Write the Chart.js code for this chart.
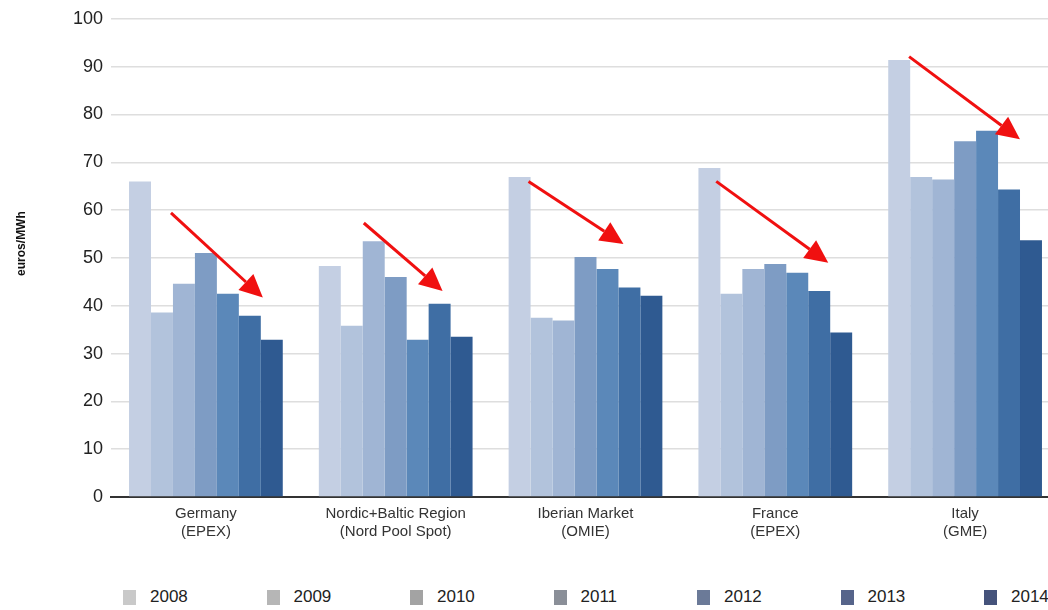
<!DOCTYPE html>
<html>
<head>
<meta charset="utf-8">
<script src="https://cdn.jsdelivr.net/npm/chart.js@4.4.1/dist/chart.umd.min.js"></script>
<style>
  html, body { margin: 0; padding: 0; background: #ffffff; overflow: hidden; }
  #wrap { position: relative; width: 1048px; height: 610px; overflow: hidden; }
  #chart { position: absolute; left: 0; top: 0; }
  #legend { position: absolute; left: 123px; top: 587px; display: flex; white-space: nowrap; }
  .item { width: 143.5px; display: flex; align-items: center; font-family: 'Liberation Sans', Arial, sans-serif; font-size: 17px; color: #222; }
  .box { width: 13px; height: 15px; margin-right: 14px; }
</style>
</head>
<body>
<div id="wrap">
  <canvas id="chart"></canvas>
  <div id="legend"></div>
</div>
<script>
// Wholesale electricity prices by market, euros/MWh
const markets = [
  ['Germany', '(EPEX)'],
  ['Nordic+Baltic Region', '(Nord Pool Spot)'],
  ['Iberian Market', '(OMIE)'],
  ['France', '(EPEX)'],
  ['Italy', '(GME)']
];
const years = ['2008', '2009', '2010', '2011', '2012', '2013', '2014'];

const price2008 = [66.0, 48.3, 66.9, 68.8, 91.4];
const price2009 = [38.6, 35.8, 37.5, 42.5, 66.9];
const price2010 = [44.6, 53.5, 36.9, 47.7, 66.4];
const price2011 = [51.0, 46.0, 50.2, 48.7, 74.4];
const price2012 = [42.5, 32.9, 47.7, 46.9, 76.6];
const price2013 = [37.9, 40.4, 43.8, 43.1, 64.3];
const price2014 = [32.9, 33.5, 42.1, 34.4, 53.7];
const seriesValues = [price2008, price2009, price2010, price2011, price2012, price2013, price2014];

const yTicks = [0, 10, 20, 30, 40, 50, 60, 70, 80, 90, 100];

// Trend arrows: [start category position, start value, end category position, end value]
const trendArrows = [
  [-0.184, 59.4, 0.300, 41.7],
  [0.832, 57.3, 1.247, 43.1],
  [1.700, 66.0, 2.200, 52.9],
  [2.689, 66.0, 3.279, 49.0],
  [3.705, 92.1, 4.289, 74.8]
];

const barColors = ['#c4cfe3', '#b2c3dc', '#a0b5d4', '#7e9cc4', '#5b88b9', '#3f6ea4', '#2f5a91'];
const legendColors = ['#c9c9c9', '#b6b6b6', '#a3a3a3', '#8a8f98', '#6b7a98', '#56648a', '#45537b'];

const canvas = document.getElementById('chart');
canvas.width = 1060;
canvas.height = 560;
canvas.style.width = '1060px';
canvas.style.height = '560px';

const arrowPlugin = {
  id: 'trendArrows',
  afterDatasetsDraw(chart) {
    const ctx = chart.ctx;
    const xs = chart.scales.x, ys = chart.scales.y;
    ctx.save();
    ctx.strokeStyle = '#f01010';
    ctx.fillStyle = '#f01010';
    ctx.lineWidth = 3;
    trendArrows.forEach(([x0, v0, x1, v1]) => {
      const px0 = xs.getPixelForValue(x0), py0 = ys.getPixelForValue(v0);
      const px1 = xs.getPixelForValue(x1), py1 = ys.getPixelForValue(v1);
      const ang = Math.atan2(py1 - py0, px1 - px0);
      const headLen = 23, headHalf = 11;
      const bx = px1 - headLen * Math.cos(ang), by = py1 - headLen * Math.sin(ang);
      ctx.beginPath();
      ctx.moveTo(px0, py0);
      ctx.lineTo(bx, by);
      ctx.stroke();
      ctx.beginPath();
      ctx.moveTo(px1, py1);
      ctx.lineTo(bx + headHalf * Math.sin(ang), by - headHalf * Math.cos(ang));
      ctx.lineTo(bx - headHalf * Math.sin(ang), by + headHalf * Math.cos(ang));
      ctx.closePath();
      ctx.fill();
    });
    ctx.restore();
  }
};

const yTitlePlugin = {
  id: 'yTitle',
  afterDraw(chart) {
    const ctx = chart.ctx;
    ctx.save();
    ctx.translate(22, chart.scales.y.getPixelForValue(53));
    ctx.rotate(-Math.PI / 2);
    ctx.font = 'bold 12px "Liberation Sans", Arial, sans-serif';
    ctx.fillStyle = '#111';
    ctx.textAlign = 'center';
    ctx.textBaseline = 'middle';
    ctx.fillText('euros/MWh', 0, 0);
    ctx.restore();
  }
};

new Chart(canvas, {
  type: 'bar',
  data: {
    labels: markets,
    datasets: years.map((yr, i) => ({
      label: yr,
      data: seriesValues[i],
      backgroundColor: barColors[i],
      borderWidth: 0,
      categoryPercentage: 0.81,
      barPercentage: 1.0
    }))
  },
  options: {
    responsive: false,
    animation: false,
    devicePixelRatio: 1,
    layout: { padding: { top: 14, right: 0, left: 0, bottom: 0 } },
    plugins: {
      legend: { display: false },
      tooltip: { enabled: false }
    },
    scales: {
      x: {
        grid: { display: false, drawTicks: false },
        border: { display: true, color: '#333', width: 2 },
        ticks: {
          padding: 8,
          color: '#333',
          font: { family: '"Liberation Sans", Arial, sans-serif', size: 15, lineHeight: 1.2 },
          maxRotation: 0,
          autoSkip: false
        },
        afterFit(scale) { scale.height = 63; }
      },
      y: {
        min: 0,
        max: 100,
        afterBuildTicks(scale) { scale.ticks = yTicks.map(v => ({ value: v })); },
        grid: { color: '#dedede', lineWidth: 1.5, drawTicks: false },
        border: { display: false },
        ticks: {
          padding: 8,
          color: '#222',
          font: { family: '"Liberation Sans", Arial, sans-serif', size: 18 }
        },
        afterFit(scale) { scale.width = 111; }
      }
    }
  },
  plugins: [arrowPlugin, yTitlePlugin]
});

// Legend row
const legend = document.getElementById('legend');
years.forEach((yr, i) => {
  const item = document.createElement('div');
  item.className = 'item';
  const box = document.createElement('span');
  box.className = 'box';
  box.style.background = legendColors[i];
  const txt = document.createElement('span');
  txt.textContent = yr;
  item.appendChild(box);
  item.appendChild(txt);
  legend.appendChild(item);
});
</script>
</body>
</html>
